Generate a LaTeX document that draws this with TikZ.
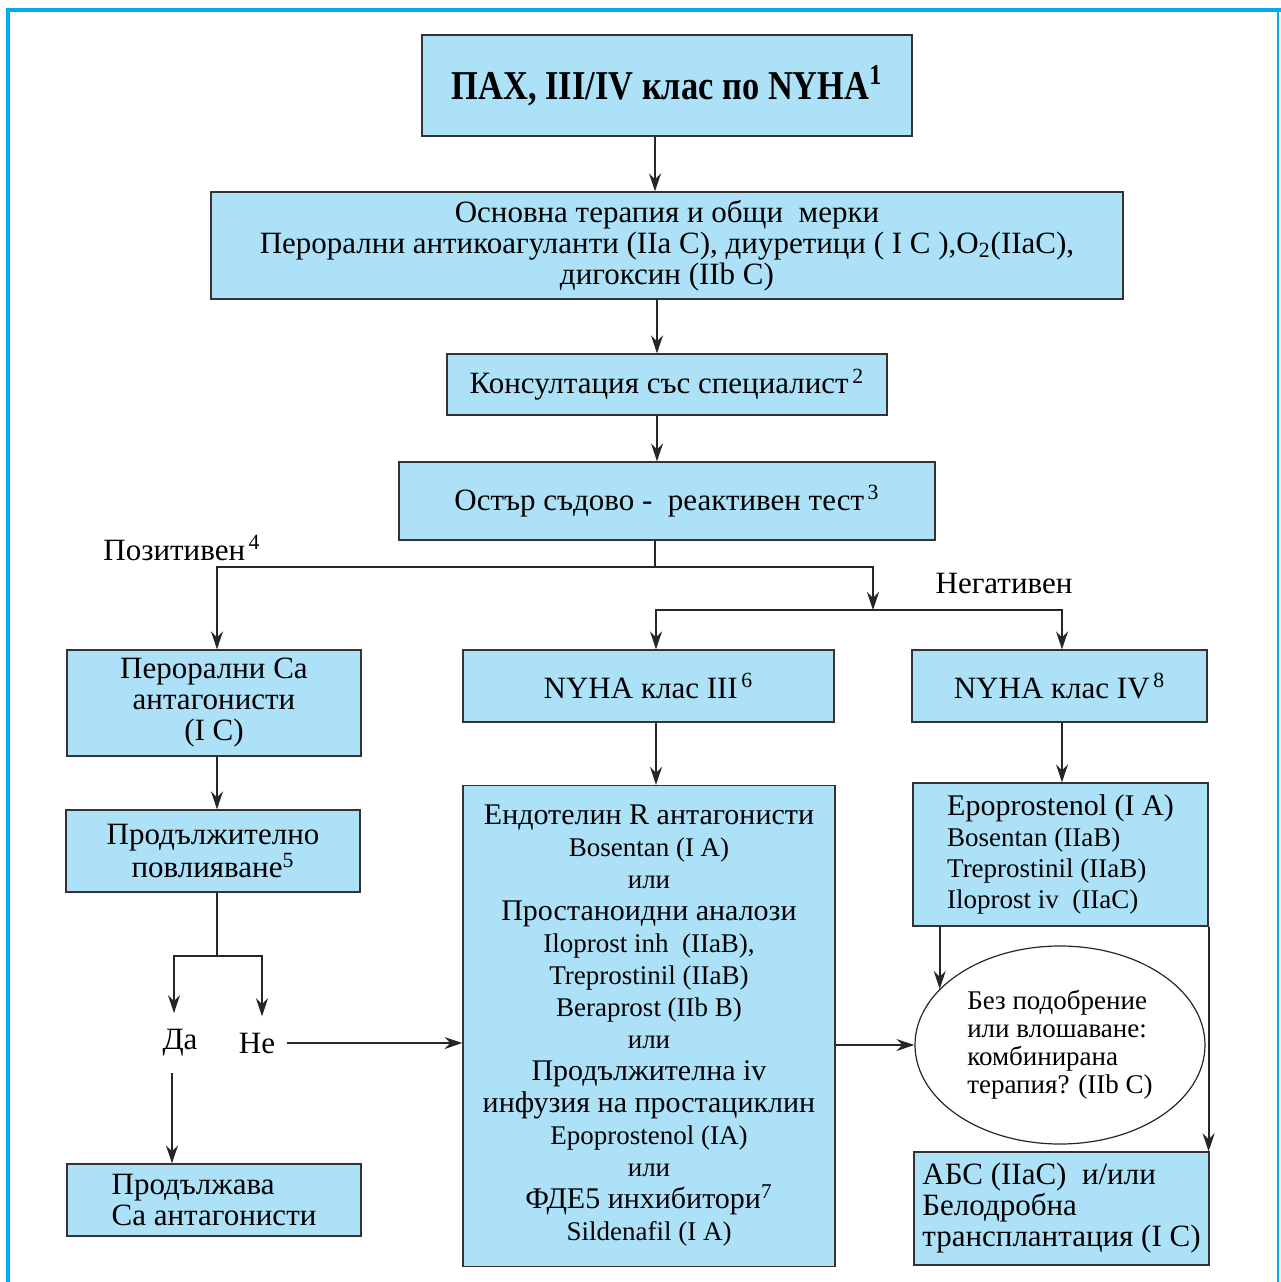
\documentclass[tikz,border=0pt]{standalone}
\usepackage{graphicx}
\usepackage{fontspec}
\setmainfont{Liberation Serif}
\usetikzlibrary{arrows.meta}
\usetikzlibrary{positioning}
\usetikzlibrary{shapes.geometric}
\definecolor{boxblue}{HTML}{ADE1F8}
\definecolor{framecyan}{HTML}{00AEEF}
\newcommand\titlefont{\fontsize{20.5}{24}\selectfont\bfseries}
\newcommand\bigtxt{\fontsize{15}{16}\selectfont}
\newcommand\smalltxt{\fontsize{13.5}{16}\selectfont}
\tikzset{>={Stealth[length=9pt,width=6pt]}, % Filled arrow heads as in the scan
      every node/.style={font=\fontsize{15.5}{15.5}\selectfont},
      box/.style={ % Sets the properties for each rectangle
      draw=black!80,
      fill=boxblue,
      line width=0.6pt,
      inner sep=0pt,
      align=center},
      boxsize/.style 2 args={minimum width=#1*0.5pt, minimum height=#2*0.5pt},
      line/.style={draw=black!85, line width=0.9pt},
      link/.style={line, ->}, % Directed connector
      answer/.style={inner xsep=6pt, inner ysep=8pt}}

\begin{document}
\begin{tikzpicture}[x=0.5pt, y=-0.5pt]
      \useasboundingbox (0,0) rectangle (1281,1282);
      % frame of the page
      \draw[framecyan, line width=2pt] (8,1282) -- (8,10) -- (1281,10);
      \draw[framecyan, line width=0.8pt] (1278,10) -- (1278,1282);

      % main column
      \node[box, boxsize={490}{101}, font=\titlefont] (pah) at (667,85.5)
            {\scalebox{0.84}[1]{ПАХ, III/IV клас по NYHA\textsuperscript{1}}};
      \node[box, boxsize={912}{107}] (base) at (667,245.5)
            {Основна терапия и общи\ \ мерки\\
             Перорални антикоагуланти (IIa C), диуретици ( I C ),O\textsubscript{2}(IIaC),\\
             дигоксин (IIb C)};
      \node[box, boxsize={440}{61}] (consult) at (667,384.5)
            {Консултация със специалист\textsuperscript{\,2}};
      \node[box, boxsize={536}{78}] (test) at (667,501)
            {Остър съдово\ -\ \ реактивен тест\textsuperscript{\,3}};
      \node (pos) at (182,548) {Позитивен\textsuperscript{\,4}};
      \node (negl) at (1004,583) {Негативен};

      % positive branch
      \node[box, boxsize={294}{106}] (ca) at (214,703)
            {Перорални Ca\\ антагонисти\\ (I C)};
      \node[box, boxsize={294}{82}] (prolong) at (213,851)
            {Продължително\\ повлияване\textsuperscript{5}};
      \node[answer] (yes) at (180,1043) {Да};
      \node[answer] (no) at (257,1043) {Не};
      \node[box, boxsize={294}{72}, align=left] (cont) at (214,1200)
            {Продължава\\ Ca антагонисти};

      % negative branch
      \node[box, boxsize={371}{72}] (nyha3) at (648.5,686)
            {NYHA клас III\textsuperscript{\,6}};
      \node[box, boxsize={372}{481}, font=\smalltxt] (drugs3) at (649,1026)
            {{\bigtxt Ендотелин R антагонисти}\\
             Bosentan (I A)\\
             или\\
             {\bigtxt Простаноидни аналози}\\
             Iloprost inh\ \ (IIaB),\\
             Treprostinil (IIaB)\\
             Beraprost (IIb B)\\
             или\\
             {\bigtxt Продължителна iv}\\
             {\bigtxt инфузия на простациклин}\\
             Epoprostenol (IA)\\
             или\\
             {\bigtxt ФДЕ5 инхибитори\textsuperscript{7}}\\
             Sildenafil (I A)};
      \node[box, boxsize={295}{72}] (nyha4) at (1059.5,686)
            {NYHA клас IV\textsuperscript{\,8}};
      \node[box, boxsize={295}{143}, align=left, font=\fontsize{13.5}{15.5}\selectfont] (drugs4) at (1060.5,854.5)
            {{\bigtxt Epoprostenol (I A)}\\
             Bosentan (IIaB)\\
             Treprostinil (IIaB)\\
             Iloprost iv\ \ (IIaC)};
      \node[ellipse, draw=black!85, line width=0.6pt, inner sep=0pt, minimum width=145pt, minimum height=99pt,
            align=left, font=\fontsize{13.5}{14}\selectfont] (comb) at (1060,1045)
            {Без подобрение\\ или влошаване:\\ комбинирана\\ терапия? (IIb C)};
      \node[box, boxsize={295}{113}, align=left] (abs) at (1061.5,1208.5)
            {АБС (IIaC)\ \ и/или\\ Белодробна\\ трансплантация (I C)};

      % connectors
      \draw[link] ([xshift=-6pt]pah.south) -- ([xshift=-6pt]pah.south |- base.north);
      \draw[link] ([xshift=-5pt]base.south) -- ([xshift=-5pt]base.south |- consult.north);
      \draw[link] ([xshift=-5pt]consult.south) -- ([xshift=-5pt]consult.south |- test.north);
      \coordinate (split) at (655,567);
      \coordinate (neg) at (873,567);
      \coordinate (negsplit) at (873,610);
      \draw[link] (test.south -| split) -- (split) -| ([xshift=1.5pt]ca.north);
      \draw[link] (split) -- (neg) -- (negsplit);
      \draw[link] (negsplit) -| ([xshift=3.75pt]nyha3.north);
      \draw[link] (negsplit) -| ([xshift=1.25pt]nyha4.north);
      \draw[link] ([xshift=1.5pt]ca.south) -- ([xshift=1.5pt]ca.south |- prolong.north);
      \coordinate (fork) at (217,956);
      \draw[line] (prolong.south -| fork) -- (fork);
      \draw[link] (fork) -| ([xshift=-3pt]yes.north);
      \draw[link] (fork) -| ([xshift=2.5pt]no.north);
      \draw[link] (no.east) -- (no.east -| drugs3.west);
      \draw[link] ([xshift=-4pt]yes.south) -- ([xshift=-4pt]yes.south |- cont.north);
      \draw[link] ([xshift=3.75pt]nyha3.south) -- ([xshift=3.75pt]nyha3.south |- drugs3.north);
      \draw[link] ([xshift=1.25pt]nyha4.south) -- ([xshift=1.25pt]nyha4.south |- drugs4.north);
      \draw[link] (comb.west -| drugs3.east) -- (comb.west);
      \draw[link] (comb.155 |- drugs4.south) -- (comb.155);
      \draw[link] (drugs4.south east) -- (drugs4.south east |- abs.north);
\end{tikzpicture}
\end{document}
